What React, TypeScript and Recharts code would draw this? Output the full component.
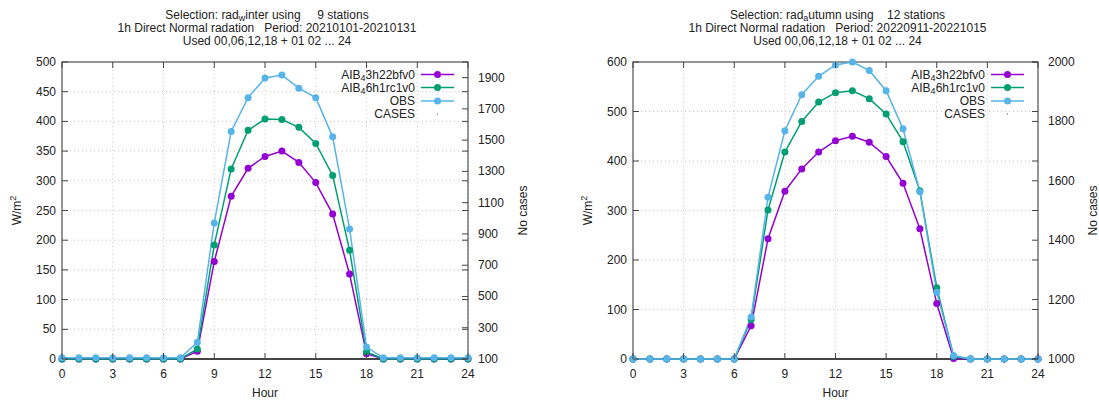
import React from 'react';
import { LineChart, Line, XAxis, YAxis, CartesianGrid, Customized } from 'recharts';

const hours = [0, 1, 2, 3, 4, 5, 6, 7, 8, 9, 10, 11, 12, 13, 14, 15, 16, 17, 18, 19, 20, 21, 22, 23, 24];
const hourTicks = [0, 3, 6, 9, 12, 15, 18, 21, 24];

// Winter panel (rad_winter, 9 stations)
const winterAIB3h22 = [0, 0, 0, 0, 0, 0, 0, 0, 13, 164, 274, 321, 341, 350, 331, 297, 244, 143, 9, 0, 0, 0, 0, 0, 0];
const winterAIB6h1 = [0, 0, 0, 0, 0, 0, 0, 0, 17, 192, 320, 385, 404, 403, 390, 363, 309, 183, 12, 0, 0, 0, 0, 0, 0];
const winterObs = [2, 2, 2, 2, 2, 2, 2, 2, 28, 229, 383, 440, 473, 478, 456, 440, 374, 219, 20, 2, 2, 2, 2, 2, 2];
const winterLeftTicks = [0, 50, 100, 150, 200, 250, 300, 350, 400, 450, 500];
const winterRightTicks = [100, 300, 500, 700, 900, 1100, 1300, 1500, 1700, 1900];

// Autumn panel (rad_autumn, 12 stations)
const autumnAIB3h22 = [0, 0, 0, 0, 0, 0, 0, 67, 243, 339, 384, 418, 441, 450, 438, 409, 355, 263, 112, 1, 0, 0, 0, 0, 0];
const autumnAIB6h1 = [0, 0, 0, 0, 0, 0, 0, 80, 301, 418, 480, 519, 538, 542, 526, 495, 439, 340, 144, 5, 0, 0, 0, 0, 0];
const autumnObs = [0, 0, 0, 0, 0, 0, 0, 85, 327, 461, 534, 571, 594, 600, 583, 542, 465, 338, 135, 7, 0, 0, 0, 0, 0];
const autumnLeftTicks = [0, 100, 200, 300, 400, 500, 600];
const autumnRightTicks = [1000, 1200, 1400, 1600, 1800, 2000];

const COL_A = '#9400d3';
const COL_B = '#009e73';
const COL_OBS = '#56b4e9';
const TXT = '#222';
const FONT = '"Liberation Sans", Arial, sans-serif';
const FS = 12;

type PanelProps = {
  width: number;
  pl: number;
  pr: number;
  pt: number;
  pb: number;
  a: number[];
  b: number[];
  obs: number[];
  leftTicks: number[];
  rightTicks: number[];
  leftDomain: [number, number];
  rightDomain: [number, number];
  season: string;
  stations: string;
  period: string;
};

function Panel(p: PanelProps) {
  const data = hours.map((h, i) => ({ hour: h, a: p.a[i], b: p.b[i], obs: p.obs[i] }));
  const cx = (p.pl + p.pr) / 2 + 2;
  const cy = (p.pt + p.pb) / 2;

  const LeftTick = (props: any) => {
    const { y, payload } = props;
    return (
      <g>
        <line x1={p.pl} x2={p.pl + 6} y1={y} y2={y} stroke="#444" strokeWidth={1} />
        <line x1={p.pr} x2={p.pr - 6} y1={y} y2={y} stroke="#444" strokeWidth={1} />
        <text x={p.pl - 6} y={y} textAnchor="end" dominantBaseline="central" fontSize={FS} fontFamily={FONT} fill={TXT}>
          {payload.value}
        </text>
      </g>
    );
  };
  const RightTick = (props: any) => {
    const { y, payload } = props;
    return (
      <g>
        <line x1={p.pr} x2={p.pr - 6} y1={y} y2={y} stroke="#444" strokeWidth={1} />
        <text x={p.pr + 10} y={y} textAnchor="start" dominantBaseline="central" fontSize={FS} fontFamily={FONT} fill={TXT}>
          {payload.value}
        </text>
      </g>
    );
  };
  const BottomTick = (props: any) => {
    const { x, payload } = props;
    return (
      <g>
        <line x1={x} x2={x} y1={p.pb} y2={p.pb - 6} stroke="#444" strokeWidth={1} />
        <line x1={x} x2={x} y1={p.pt} y2={p.pt + 6} stroke="#444" strokeWidth={1} />
        <text x={x} y={p.pb + 15} textAnchor="middle" dominantBaseline="central" fontSize={FS} fontFamily={FONT} fill={TXT}>
          {payload.value}
        </text>
      </g>
    );
  };

  const legendItems = [
    { key: 'a', parts: ['AIB', '4', '3h22bfv0'], color: COL_A, line: true },
    { key: 'b', parts: ['AIB', '4', '6h1rc1v0'], color: COL_B, line: true },
    { key: 'o', parts: ['OBS'], color: COL_OBS, line: true },
    { key: 'c', parts: ['CASES'], color: '#333', line: false },
  ];

  const Overlay = () => {
    const textEnd = p.pr - 53;
    const lx1 = p.pr - 47;
    const lx2 = p.pr - 14;
    const rowY = [74.5, 87.5, 101, 114];
    return (
      <g>
        <rect x={p.pl} y={p.pt} width={p.pr - p.pl} height={p.pb - p.pt} fill="none" stroke="#333" strokeWidth={1} />
        <line x1={p.pl} x2={p.pr} y1={p.pb} y2={p.pb} stroke="#444" strokeWidth={2} />
        {/* titles */}
        <text x={cx} y={15} textAnchor="middle" dominantBaseline="central" fontSize={FS} fontFamily={FONT} fill={TXT} style={{ whiteSpace: 'pre' }}>
          <tspan>Selection: rad</tspan>
          <tspan dy={3} fontSize={9}>{p.season[0]}</tspan>
          <tspan dy={-3}>{p.season.slice(1) + ' using ' + p.stations + ' stations'}</tspan>
        </text>
        <text x={cx} y={28} textAnchor="middle" dominantBaseline="central" fontSize={FS} fontFamily={FONT} fill={TXT} style={{ whiteSpace: 'pre' }}>
          {'1h Direct Normal radation   Period: ' + p.period}
        </text>
        <text x={cx} y={41} textAnchor="middle" dominantBaseline="central" fontSize={FS} fontFamily={FONT} fill={TXT} style={{ whiteSpace: 'pre' }}>
          {'Used 00,06,12,18 + 01 02 ... 24'}
        </text>
        {/* axis titles */}
        <text x={p.pl - 45} y={cy} transform={`rotate(-90 ${p.pl - 45} ${cy})`} textAnchor="middle" dominantBaseline="central" fontSize={FS} fontFamily={FONT} fill={TXT}>
          <tspan>W/m</tspan>
          <tspan dy={-4} fontSize={9}>2</tspan>
        </text>
        <text x={p.pr + 55} y={cy} transform={`rotate(-90 ${p.pr + 55} ${cy})`} textAnchor="middle" dominantBaseline="central" fontSize={FS} fontFamily={FONT} fill={TXT}>
          No cases
        </text>
        <text x={cx - 2} y={p.pb + 34} textAnchor="middle" dominantBaseline="central" fontSize={FS} fontFamily={FONT} fill={TXT}>
          Hour
        </text>
        {/* legend */}
        {legendItems.map((it, i) => (
          <g key={it.key}>
            <text x={textEnd} y={rowY[i]} textAnchor="end" dominantBaseline="central" fontSize={FS} fontFamily={FONT} fill={TXT}>
              {it.parts.length === 3 ? (
                <>
                  <tspan>{it.parts[0]}</tspan>
                  <tspan dy={3} fontSize={9}>{it.parts[1]}</tspan>
                  <tspan dy={-3}>{it.parts[2]}</tspan>
                </>
              ) : (
                it.parts[0]
              )}
            </text>
            {it.line ? (
              <>
                <line x1={lx1} x2={lx2} y1={rowY[i]} y2={rowY[i]} stroke={it.color} strokeWidth={1.5} />
                <circle cx={(lx1 + lx2) / 2} cy={rowY[i]} r={3.5} fill={it.color} />
              </>
            ) : (
              <circle cx={(lx1 + lx2) / 2} cy={rowY[i]} r={0.6} fill={it.color} />
            )}
          </g>
        ))}
      </g>
    );
  };

  return (
    <LineChart
      width={p.width}
      height={401}
      data={data}
      margin={{ top: p.pt, right: 0, bottom: 0, left: 0 }}
    >
      <CartesianGrid yAxisId="left" stroke="#c8c8c8" strokeDasharray="1 3" />
      <XAxis
        dataKey="hour"
        type="number"
        domain={[0, 24]}
        ticks={hourTicks}
        height={401 - p.pb}
        tickLine={false}
        axisLine={false}
        tick={BottomTick}
        interval={0}
      />
      <YAxis
        yAxisId="left"
        type="number"
        domain={p.leftDomain}
        ticks={p.leftTicks}
        width={p.pl}
        tickLine={false}
        axisLine={false}
        tick={LeftTick}
        interval={0}
      />
      <YAxis
        yAxisId="right"
        orientation="right"
        type="number"
        domain={p.rightDomain}
        ticks={p.rightTicks}
        width={p.width - p.pr}
        tickLine={false}
        axisLine={false}
        tick={RightTick}
        interval={0}
        allowDataOverflow
      />
      <Customized component={Overlay} />
      <Line yAxisId="right" dataKey="cases" stroke="none" dot={false} activeDot={false} legendType="none" isAnimationActive={false} />
      <Line yAxisId="left" dataKey="a" stroke={COL_A} strokeWidth={1.5} dot={{ r: 3.5, fill: COL_A, stroke: 'none' }} isAnimationActive={false} />
      <Line yAxisId="left" dataKey="b" stroke={COL_B} strokeWidth={1.5} dot={{ r: 3.5, fill: COL_B, stroke: 'none' }} isAnimationActive={false} />
      <Line yAxisId="left" dataKey="obs" stroke={COL_OBS} strokeWidth={1.5} dot={{ r: 3.5, fill: COL_OBS, stroke: 'none' }} isAnimationActive={false} />
    </LineChart>
  );
}

export default function App() {
  return (
    <div style={{ position: 'absolute', left: 0, top: 0, width: 1099, height: 401, background: '#fff' }}>
      <div style={{ position: 'absolute', left: 0, top: 0 }}>
        <Panel
          width={550}
          pl={62}
          pr={468}
          pt={62}
          pb={359}
          a={winterAIB3h22}
          b={winterAIB6h1}
          obs={winterObs}
          leftTicks={winterLeftTicks}
          rightTicks={winterRightTicks}
          leftDomain={[0, 500]}
          rightDomain={[100, 2000]}
          season="winter"
          stations="    9"
          period="20210101-20210131"
        />
      </div>
      <div style={{ position: 'absolute', left: 550, top: 0 }}>
        <Panel
          width={549}
          pl={83}
          pr={488}
          pt={62}
          pb={359}
          a={autumnAIB3h22}
          b={autumnAIB6h1}
          obs={autumnObs}
          leftTicks={autumnLeftTicks}
          rightTicks={autumnRightTicks}
          leftDomain={[0, 600]}
          rightDomain={[1000, 2000]}
          season="autumn"
          stations="   12"
          period="20220911-20221015"
        />
      </div>
    </div>
  );
}
